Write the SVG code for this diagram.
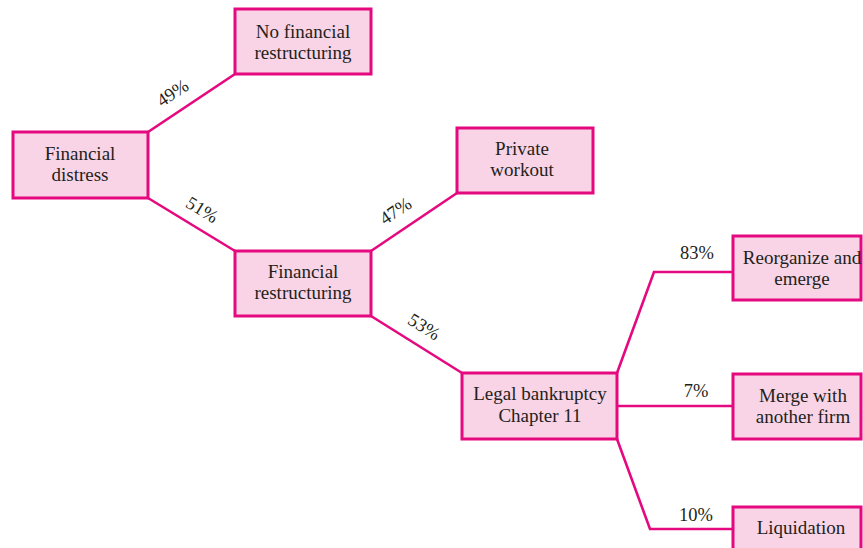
<svg xmlns="http://www.w3.org/2000/svg" width="863" height="548" viewBox="0 0 863 548">
<style>
.box{fill:#F9D4E6;stroke:#E5097F;stroke-width:3}
.ln{fill:none;stroke:#E5097F;stroke-width:2.6;stroke-linejoin:miter}
.t{font-family:"Liberation Serif","Times New Roman",serif;font-size:19px;fill:#231F20;text-anchor:middle}
.p{font-family:"Liberation Serif","Times New Roman",serif;font-size:18.5px;fill:#231F20;text-anchor:middle}
</style>
<rect width="863" height="548" fill="#ffffff"/>
<g id="connectors">
<line class="ln" x1="148" y1="132" x2="235" y2="74"/>
<line class="ln" x1="148" y1="198" x2="235" y2="251"/>
<line class="ln" x1="371" y1="251" x2="457" y2="193"/>
<line class="ln" x1="371" y1="316" x2="462" y2="373"/>
<polyline class="ln" points="617,373 654,272 733,272"/>
<line class="ln" x1="617" y1="406" x2="733" y2="406"/>
<polyline class="ln" points="617,439 650,529 733,529"/>
<text class="p" transform="translate(176,98) rotate(-33.7)">49%</text>
<text class="p" transform="translate(199,215) rotate(31.4)">51%</text>
<text class="p" transform="translate(399,216) rotate(-34)">47%</text>
<text class="p" transform="translate(421,332) rotate(32)">53%</text>
<text class="p" x="697" y="259">83%</text>
<text class="p" x="696" y="397">7%</text>
<text class="p" x="696" y="521">10%</text>
</g>
<g id="financial-distress">
<rect class="box" x="13" y="132" width="135" height="66"/>
<text class="t" x="80" y="159.5">Financial</text>
<text class="t" x="80" y="180.5">distress</text>
</g>
<g id="no-financial-restructuring">
<rect class="box" x="235" y="9" width="136" height="65"/>
<text class="t" x="303" y="37.5">No financial</text>
<text class="t" x="303" y="58.5">restructuring</text>
</g>
<g id="financial-restructuring">
<rect class="box" x="235" y="251" width="136" height="65"/>
<text class="t" x="303" y="277.5">Financial</text>
<text class="t" x="303" y="298.5">restructuring</text>
</g>
<g id="private-workout">
<rect class="box" x="457" y="128" width="136" height="65"/>
<text class="t" x="522" y="155">Private</text>
<text class="t" x="522" y="176">workout</text>
</g>
<g id="legal-bankruptcy">
<rect class="box" x="462" y="373" width="155" height="66"/>
<text class="t" x="540" y="400">Legal bankruptcy</text>
<text class="t" x="540" y="421.5">Chapter 11</text>
</g>
<g id="reorganize">
<rect class="box" x="733" y="236" width="128" height="64"/>
<text class="t" x="802" y="264">Reorganize and</text>
<text class="t" x="802" y="285">emerge</text>
</g>
<g id="merge">
<rect class="box" x="733" y="374" width="128" height="65"/>
<text class="t" x="803" y="401.5">Merge with</text>
<text class="t" x="803" y="422.5">another firm</text>
</g>
<g id="liquidation">
<rect class="box" x="733" y="507" width="128" height="60"/>
<text class="t" x="801" y="534">Liquidation</text>
</g>
</svg>
